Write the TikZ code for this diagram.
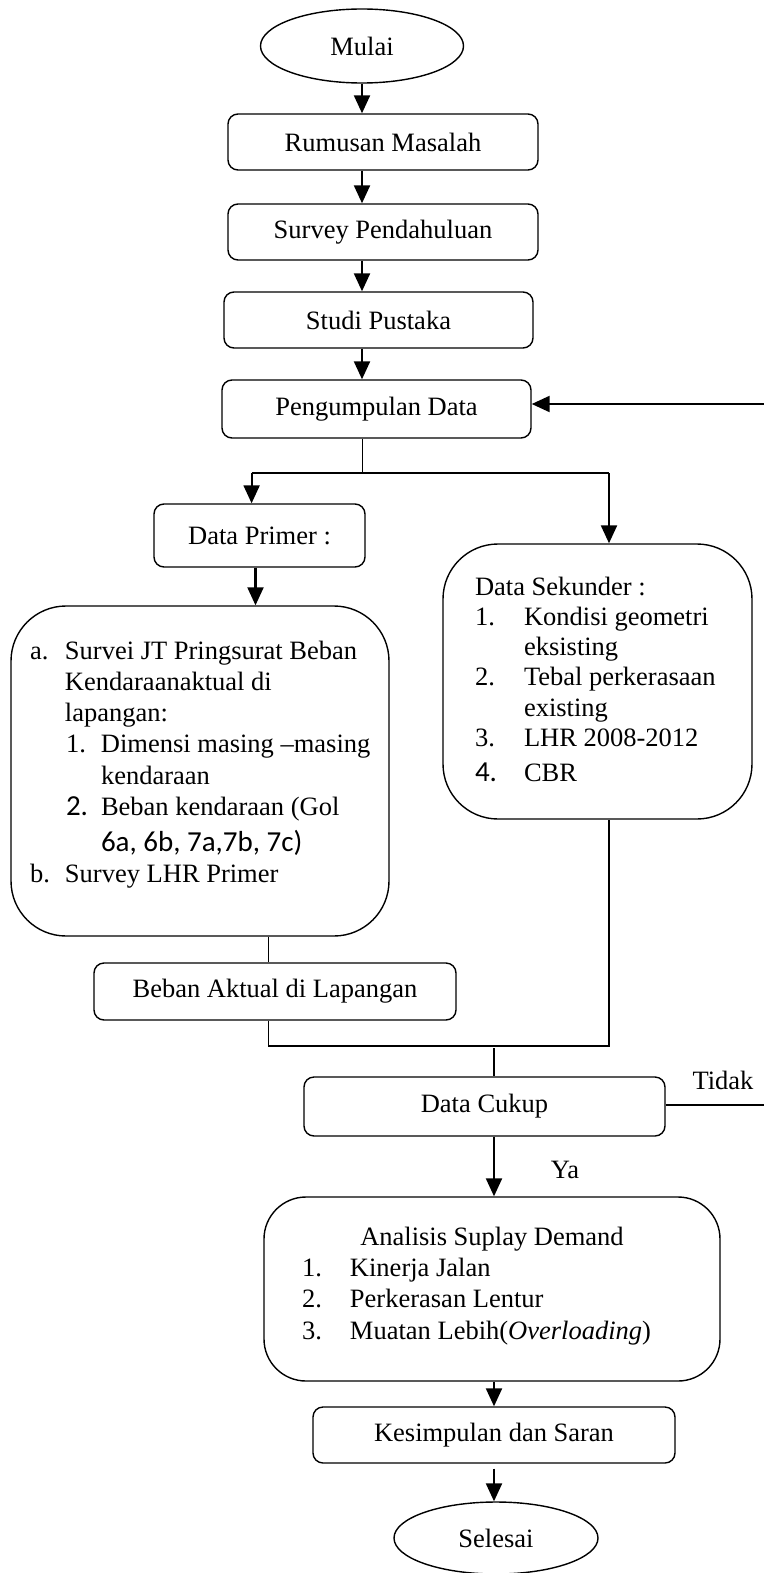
\documentclass[tikz,border=0pt]{standalone}
\usepackage{fontspec}
\setmainfont{Liberation Serif}
\newfontfamily\calibri{Carlito}
\usetikzlibrary{shapes.geometric,arrows.meta}
\newcommand{\mainfs}{\fontsize{26.5}{31.2}\selectfont}
\newcommand{\calfs}{\calibri\fontsize{29}{31.2}\selectfont}
\begin{document}
\begin{tikzpicture}[x=1pt,y=-1pt,
  every node/.style={font=\mainfs, text=black},
  box/.style={draw, line width=1.4pt, rounded corners=10pt, inner sep=0pt},
  term/.style={draw, ellipse, line width=1.4pt, inner sep=0pt, minimum width=203pt, minimum height=74pt},
  big/.style={draw, line width=1.4pt, rounded corners=55pt, inner sep=0pt},
  arr/.style={line width=2.2pt, -{Triangle[length=18pt,width=16pt]}},
  conn/.style={line width=1.4pt}]
\fill[white] (0,0) rectangle (763,1573);
\useasboundingbox (0,0) rectangle (763,1573);

\node[term] (mulai) at (362,46) {Mulai};
\node[box, minimum width=310pt, minimum height=56pt] (rum) at (383,142) {Rumusan Masalah};
\node[box, minimum width=310pt, minimum height=56pt] (sur) at (383,232) {Survey Pendahuluan};
\node[box, minimum width=309pt, minimum height=56pt] (stu) at (378.5,320) {Studi Pustaka};
\node[box, minimum width=309pt, minimum height=58pt] (pen) at (376.5,409) {Pengumpulan Data};
\node[box, minimum width=211pt, minimum height=63pt] (prim) at (259.5,535.5) {Data Primer :};

\node[big, minimum width=378pt, minimum height=330pt] (left) at (200,771) {%
\begin{minipage}[c][330pt][t]{378pt}\raggedright\setlength{\parindent}{0pt}%
\vspace*{35pt}%
\hspace*{19pt}\makebox[35pt][l]{a.}Survei JT Pringsurat Beban\par
\hspace*{54pt}Kendaraanaktual di\par
\hspace*{54pt}lapangan:\par
\hspace*{55pt}\makebox[35pt][l]{1.}Dimensi masing –masing\par
\hspace*{90pt}kendaraan\par
\hspace*{55pt}\makebox[35pt][l]{\calfs 2.}Beban kendaraan (Gol\par
\vspace{5pt}\hspace*{90pt}{\calfs 6a, 6b, 7a,7b, 7c)}\par
\hspace*{19pt}\makebox[35pt][l]{b.}Survey LHR Primer\par
\end{minipage}};

\node[big, minimum width=309pt, minimum height=275pt] (sek) at (597.5,681.5) {%
\begin{minipage}[c][275pt][t]{309pt}\raggedright\setlength{\parindent}{0pt}\fontsize{26.5}{30.2}\selectfont
\vspace*{33pt}%
\hspace*{32pt}Data Sekunder :\par
\hspace*{32pt}\makebox[49pt][l]{1.}Kondisi geometri\par
\hspace*{81pt}eksisting\par
\hspace*{32pt}\makebox[49pt][l]{2.}Tebal perkerasaan\par
\hspace*{81pt}existing\par
\hspace*{32pt}\makebox[49pt][l]{3.}LHR 2008-2012\par
\vspace{5pt}\hspace*{32pt}\makebox[49pt][l]{\calfs 4.}CBR\par
\end{minipage}};

\node[box, minimum width=362pt, minimum height=57pt] (beban) at (275,991.5) {Beban Aktual di Lapangan};
\node[box, minimum width=361pt, minimum height=59pt] (cukup) at (484.5,1106.5) {Data Cukup};

\node[big, rounded corners=42pt, minimum width=456pt, minimum height=184pt] (anal) at (492,1289) {%
\begin{minipage}[c][184pt][t]{456pt}\setlength{\parindent}{0pt}%
\vspace*{30pt}%
{\centering Analisis Suplay Demand\par}
\hspace*{38pt}\makebox[48pt][l]{1.}Kinerja Jalan\par
\hspace*{38pt}\makebox[48pt][l]{2.}Perkerasan Lentur\par
\hspace*{38pt}\makebox[48pt][l]{3.}Muatan Lebih(\textit{Overloading})\par
\end{minipage}};

\node[box, minimum width=362pt, minimum height=56pt] (kes) at (494,1435) {Kesimpulan dan Saran};
\node[term, minimum width=204pt, minimum height=72pt] (sel) at (496,1538) {Selesai};

\node (tidak) at (723,1080) {Tidak};
\node (ya) at (565,1170) {Ya};

% main column arrows
\draw[arr] (mulai.south) -- (mulai.south |- rum.north);
\draw[arr] (mulai.south |- rum.south) -- (mulai.south |- sur.north);
\draw[arr] (mulai.south |- sur.south) -- (mulai.south |- stu.north);
\draw[arr] (mulai.south |- stu.south) -- (mulai.south |- pen.north);

% split
\coordinate (split) at (362.5,473);
\coordinate (sL) at (251.6,473);
\coordinate (sR) at (609,473);
\draw[conn] (split |- pen.south) -- (split);
\draw[conn] (sL) -- (sR);
\draw[arr] (sL) -- (sL |- prim.north);
\draw[arr] (sR) -- (sR |- sek.north);
\draw[arr] ([xshift=-4pt]prim.south) -- ([xshift=-4pt]prim.south |- left.north);

% merge
\coordinate (merge) at (494,1046);
\draw[conn] ([xshift=-6.4pt]beban.north |- left.south) -- ([xshift=-6.4pt]beban.north);
\draw[conn] ([xshift=-6.4pt]beban.south) |- ([xshift=11.5pt]sek.south |- merge) -- ([xshift=11.5pt]sek.south);
\draw[conn] ([yshift=-2pt]merge) -- (merge |- cukup.north);

% lower column
\draw[arr] (merge |- cukup.south) -- (merge |- anal.north);
\draw[arr] (merge |- anal.south) -- (merge |- kes.north);
\draw[arr] ([yshift=-5pt]kes.south) -- (kes.south |- sel.north);

% loop back
\coordinate (loop) at (768,1105);
\draw[arr] (cukup.east |- loop) -- (loop) |- ([yshift=5pt]pen.east);
\end{tikzpicture}
\end{document}
